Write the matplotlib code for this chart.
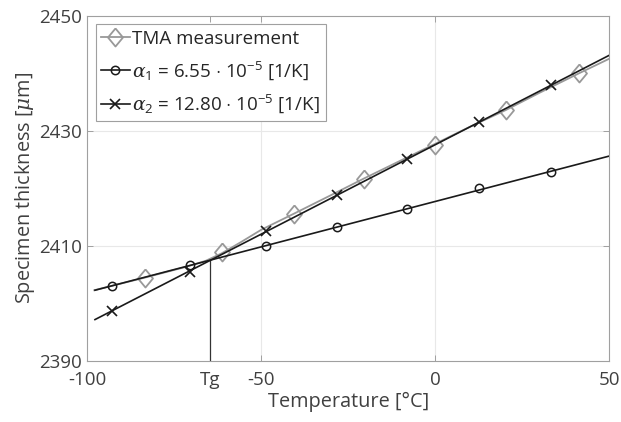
import matplotlib
matplotlib.use("Agg")
from matplotlib import pyplot as plt

tg = -64.6
tg_y = 2407.6

tma_x = [-98.0, -83.4, -72.0, -66.0, -61.4, -56.0, -50.0, -40.6, -30.0, -20.5, -10.0, -0.1, 10.0, 20.3, 30.0, 41.4, 50.0]
tma_y = [2402.3, 2404.5, 2406.3, 2407.4, 2408.7, 2410.6, 2412.8, 2415.6, 2418.8, 2421.7, 2424.8, 2427.7, 2430.7, 2433.6, 2436.6, 2440.0, 2442.5]
diam_x = [-83.4, -61.4, -40.6, -20.5, -0.1, 20.3, 41.4]
diam_y = [2404.5, 2408.9, 2415.5, 2421.7, 2427.6, 2433.7, 2440.1]

a1_line_x = [-97.8, 50.0]
a1_line_y = [2402.3, 2425.6]
a1_x = [-93.0, -70.5, -48.6, -28.3, -8.0, 12.6, 33.2]
a1_y = [2403.0, 2406.6, 2410.0, 2413.2, 2416.4, 2420.0, 2422.9]

a2_line_x = [-97.8, 50.0]
a2_line_y = [2397.2, 2443.1]
a2_x = [-93.0, -70.5, -48.6, -28.3, -8.0, 12.6, 33.2]
a2_y = [2398.7, 2405.5, 2412.6, 2418.8, 2425.1, 2431.6, 2438.0]

xticks = [-100, tg, -50, 0, 50]
xtick_labels = ["-100", "Tg", "-50", "0", "50"]
yticks = [2390, 2410, 2430, 2450]

plt.rcParams["font.family"] = ["Open Sans", "DejaVu Sans"]
plt.rcParams["mathtext.fontset"] = "custom"
plt.rcParams["mathtext.rm"] = "Open Sans"
plt.rcParams["mathtext.it"] = "DejaVu Serif:italic"

txt = "#404040"
gray = "#999999"
blk = "#1a1a1a"

fig = plt.figure(figsize=(6.21, 4.22), dpi=100)
ax = fig.add_axes([0.1406, 0.1445, 0.9807 - 0.1406, 0.9628 - 0.1445])

diamond = [(0, 1), (0.83, 0), (0, -1), (-0.83, 0), (0, 1)]

ax.plot(tma_x, tma_y, color=gray, lw=1.3, zorder=3)
ax.plot(diam_x, diam_y, ls="none", marker=diamond, ms=13, mfc="none", mec=gray, mew=1.3, zorder=3)
ax.plot(a1_line_x, a1_line_y, color=blk, lw=1.2, zorder=4)
ax.plot(a1_x, a1_y, ls="none", marker="o", ms=6, mfc="none", mec=blk, mew=1.1, zorder=4)
ax.plot(a2_line_x, a2_line_y, color=blk, lw=1.2, zorder=4)
ax.plot(a2_x, a2_y, ls="none", marker="x", ms=7, mec=blk, mew=1.2, zorder=4)
ax.plot([tg, tg], [2390, tg_y], color="#333333", lw=0.9, zorder=2)

# legend proxies
h1, = ax.plot([], [], color=gray, lw=1.3, marker=diamond, ms=13, mfc="none", mec=gray, mew=1.3)
h2, = ax.plot([], [], color=blk, lw=1.2, marker="o", ms=6, mfc="none", mec=blk, mew=1.1)
h3, = ax.plot([], [], color=blk, lw=1.2, marker="x", ms=7, mec=blk, mew=1.2)
leg = ax.legend([h1, h2, h3],
                ["TMA measurement",
                 r"$\alpha_1$ = 6.55 $\cdot$ 10$^{-5}$ [1/K]",
                 r"$\alpha_2$ = 12.80 $\cdot$ 10$^{-5}$ [1/K]"],
                loc="upper left", fontsize=13.5, handlelength=1.5, handletextpad=0.15,
                borderaxespad=0.45, borderpad=0.3, labelspacing=0.6,
                fancybox=False, framealpha=1, edgecolor="#a0a0a0")
for t in leg.get_texts():
    t.set_color("#262626")
leg.get_frame().set_linewidth(0.8)

ax.set_xlim(-100, 50)
ax.set_ylim(2390, 2450)
ax.set_xticks(xticks)
ax.set_xticklabels(xtick_labels)
ax.set_yticks(yticks)

for x in [-50, 0]:
    ax.axvline(x, color="#e8e8e8", lw=0.8, zorder=0)
for y in [2410, 2430]:
    ax.axhline(y, color="#e8e8e8", lw=0.8, zorder=0)

ax.tick_params(direction="in", length=4, width=0.7, color="#a0a0a0",
               labelsize=13.5, labelcolor=txt, top=True, right=True)
ax.tick_params(axis="x", pad=7)
ax.tick_params(axis="y", pad=4)
for s in ax.spines.values():
    s.set_color("#a0a0a0")
    s.set_linewidth(0.8)

ax.set_xlabel("Temperature [°C]", fontsize=14.3, color=txt, labelpad=2)
ax.set_ylabel(r"Specimen thickness [$\mu$m]", fontsize=14.3, color=txt, labelpad=1)

fig.savefig("out.png", dpi=100)
